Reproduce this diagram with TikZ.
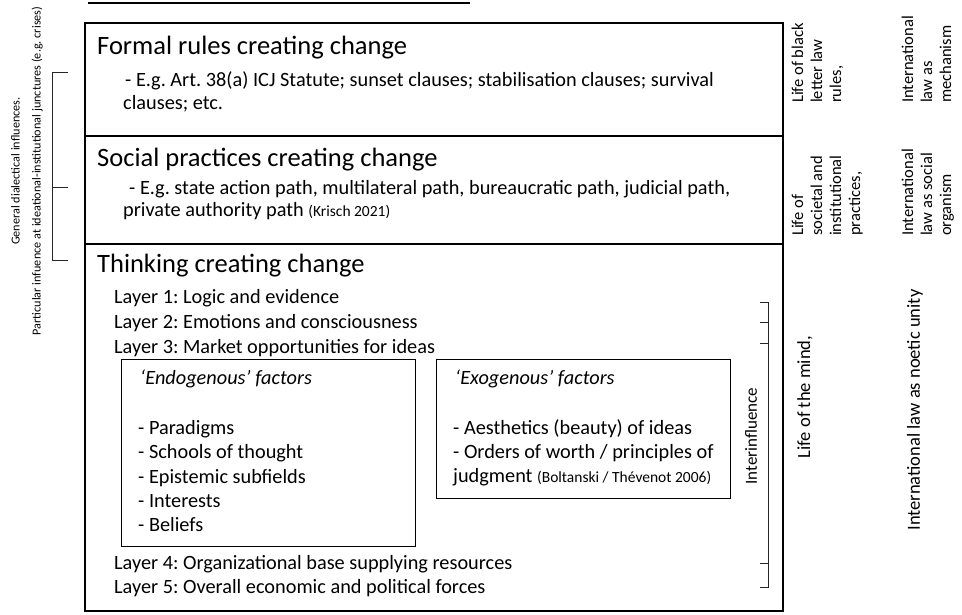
\documentclass[tikz,border=0pt]{standalone}
\usepackage{fontspec}
\setmainfont{Carlito}
\frenchspacing
\newcommand{\smallcite}{\fontsize{15.5}{17}\selectfont}
\begin{document}
\begin{tikzpicture}[x=1pt, y=-1pt,
    boxStyle/.style={rectangle, draw, line width=1.6pt, anchor=north west, inner sep=0pt},
    subBoxStyle/.style={rectangle, draw, line width=1.3pt, anchor=north west, inner sep=0pt},
    titleStyle/.style={anchor=base west, inner sep=0pt, font=\fontsize{26.5}{30}\selectfont},
    lineStyle/.style={anchor=base west, inner sep=0pt, font=\fontsize{20.3}{24}\selectfont},
    sideFont/.style={font=\fontsize{18.5}{21}\selectfont},
    colStyle/.style={rotate=90, anchor=base west, inner sep=0pt, font=\fontsize{16.5}{19}\selectfont},
    bracketStyle/.style={draw=black!85, line width=0.9pt}]
    \useasboundingbox (0,0) rectangle (962,614);

    \draw[line width=2.5pt] (88,3) -- (470,3);

    \node[boxStyle, minimum width=698pt, minimum height=113pt] (formalBox) at (84,22) {};
    \node[boxStyle, minimum width=698pt, minimum height=108pt] (socialBox) at (84,135) {};
    \node[boxStyle, minimum width=698pt, minimum height=367pt] (thinkBox)  at (84,243) {};

    \node[titleStyle] (formalTitle) at (97,54) {Formal rules creating change};
    \node[lineStyle]  (formal_1) at (125,86)  {- E.g. Art. 38(a) ICJ Statute; sunset clauses; stabilisation clauses; survival};
    \node[lineStyle]  (formal_2) at (123,109) {clauses; etc.};

    \node[titleStyle] (socialTitle) at (97,166) {Social practices creating change};
    \node[lineStyle]  (social_1) at (129,194) {- E.g. state action path, multilateral path, bureaucratic path, judicial path,};
    \node[lineStyle]  (social_2) at (123,216) {private authority path {\smallcite(Krisch 2021)}};

    \node[titleStyle] (thinkTitle) at (97,272) {Thinking creating change};
    \node[lineStyle]  (layer_1) at (114,303) {Layer 1: Logic and evidence};
    \node[lineStyle]  (layer_2) at (114,328) {Layer 2: Emotions and consciousness};
    \node[lineStyle]  (layer_3) at (114,353) {Layer 3: Market opportunities for ideas};
    \node[lineStyle]  (layer_4) at (114,569) {Layer 4: Organizational base supplying resources};
    \node[lineStyle]  (layer_5) at (114,593) {Layer 5: Overall economic and political forces};

    \node[subBoxStyle, minimum width=294pt, minimum height=187pt] (endoBox) at (121,359) {};
    \node[lineStyle] (endoTitle) at (140,384) {\itshape `Endogenous' factors};
    \node[lineStyle] (endo_1) at (138,434) {- Paradigms};
    \node[lineStyle] (endo_2) at (138,458) {- Schools of thought};
    \node[lineStyle] (endo_3) at (138,483) {- Epistemic subfields};
    \node[lineStyle] (endo_4) at (138,507) {- Interests};
    \node[lineStyle] (endo_5) at (138,531) {- Beliefs};

    \node[subBoxStyle, minimum width=294pt, minimum height=139pt] (exoBox) at (436,359) {};
    \node[lineStyle] (exoTitle) at (455,384) {\itshape `Exogenous' factors};
    \node[lineStyle] (exo_1) at (453,434) {- Aesthetics (beauty) of ideas};
    \node[lineStyle] (exo_2) at (453,458) {- Orders of worth / principles of};
    \node[lineStyle] (exo_3) at (453,482) {judgment {\smallcite(Boltanski / Thévenot 2006)}};

    % brackets
    \draw[bracketStyle] (68,72) -- (52,72) -- (52,260) -- (68,260);
    \draw[bracketStyle] (52,187) -- (68,187);
    \draw[bracketStyle] (760,302) -- (768,302) -- (768,587) -- (760,587);
    \foreach \y in {322,343,563}
        \draw[bracketStyle] (760,\y) -- (768,\y);

    \node[rotate=90, align=center, inner sep=0pt, font=\fontsize{12.2}{21}\selectfont] (influence) at (27,171)
        {General dialectical influences.\\Particular infuence at ideational-institutional junctures (e.g. crises)};
    \node[rotate=90, inner sep=0pt, font=\fontsize{17}{20}\selectfont] (interinfluence) at (751,436) {Interinfluence};

    \node[colStyle] (rules_1) at (803,103) {Life of black};
    \node[colStyle] (rules_2) at (822,103) {letter law};
    \node[colStyle] (rules_3) at (841,103) {rules,};
    \node[colStyle] (mech_1) at (913,103) {International};
    \node[colStyle] (mech_2) at (932,103) {law as};
    \node[colStyle] (mech_3) at (951,103) {mechanism};

    \node[colStyle] (practice_1) at (803,236) {Life of};
    \node[colStyle] (practice_2) at (822,236) {societal and};
    \node[colStyle] (practice_3) at (841,236) {institutional};
    \node[colStyle] (practice_4) at (860,236) {practices,};
    \node[colStyle] (organism_1) at (913,236) {International};
    \node[colStyle] (organism_2) at (932,236) {law as social};
    \node[colStyle] (organism_3) at (951,236) {organism};

    \node[rotate=90, inner sep=0pt, sideFont] (mind)   at (805,397) {Life of the mind,};
    \node[rotate=90, inner sep=0pt, sideFont] (noetic) at (915,410) {International law as noetic unity};
\end{tikzpicture}
\end{document}
